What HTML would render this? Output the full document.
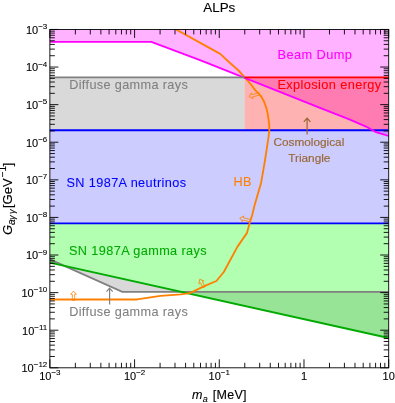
<!DOCTYPE html><html><head><meta charset="utf-8"><style>html,body{margin:0;padding:0;background:#fff}svg{display:block}text{font-family:"Liberation Sans",sans-serif}svg{will-change:transform}</style></head><body>
<svg width="395" height="403" viewBox="0 0 395 403">
<rect width="395" height="403" fill="#fff"/>
<defs><clipPath id="c"><rect x="49.87" y="29.45" width="338.83" height="338.35"/></clipPath></defs>
<g clip-path="url(#c)">
<rect x="49.87" y="77.45" width="194.82999999999998" height="52.749999999999986" fill="#808080" fill-opacity="0.3"/>
<polygon points="49.87,29.45 49.87,41.85 151.40,41.85 200.00,60.20 244.70,77.90 320.00,107.90 350.00,119.70 365.40,126.30 376.00,132.10 388.70,136.00 388.7,29.45" fill="#ff00ff" fill-opacity="0.3"/>
<rect x="244.7" y="77.45" width="144.0" height="52.749999999999986" fill="#ff0000" fill-opacity="0.3"/>
<rect x="49.87" y="130.2" width="338.83" height="93.20000000000002" fill="#0000ff" fill-opacity="0.2"/>
<polygon points="49.87,259.4 122.3,291.8 388.7,291.8 388.7,337.99 49.87,262.60" fill="#808080" fill-opacity="0.3"/>
<polygon points="49.87,223.4 388.7,223.4 388.7,337.99 49.87,262.60" fill="#00ff00" fill-opacity="0.3"/>
<line x1="49.87" y1="130.2" x2="388.7" y2="130.2" stroke="#0000ff" stroke-width="1.9"/>
<line x1="49.87" y1="223.4" x2="388.7" y2="223.4" stroke="#0000ff" stroke-width="1.9"/>
<polyline points="49.87,259.4 122.3,291.8 388.7,291.8" fill="none" stroke="#808080" stroke-width="1.8"/>
<line x1="49.87" y1="262.60" x2="388.7" y2="337.99" stroke="#00aa00" stroke-width="1.9"/>
<polyline points="176.0,29.45 220.2,53.9 230,63 238,70 244.9,77.5 250.6,84 255.2,90.1 258.8,93.7 261.8,97.4 264.3,102.2 266.4,108 267.6,113 269.1,123.6 269.4,129.6 268.5,137.4 264.7,162.2 261,183.3 254.8,204.4 252.2,215 249.65,223.1 247,232.9 237.5,246.6 223.8,272 216.4,281 203.7,286.4 190,293.2 180.7,294.3 160.5,295.9 137.2,299.45 49.87,299.45" fill="none" stroke="#ff8000" stroke-width="1.85" stroke-linejoin="round"/>
<path transform="translate(73.5,299.45) rotate(0)" d="M-1.15,1 V-5.15 H-2.9 L0,-8.45 L2.9,-5.15 H1.15 V1 Z" fill="none" stroke="#ff8000" stroke-width="0.75" stroke-linejoin="miter"/>
<path transform="translate(203.7,286.3) rotate(-30)" d="M-1.15,1 V-4.70 H-2.9 L0,-8.00 L2.9,-4.70 H1.15 V1 Z" fill="none" stroke="#ff8000" stroke-width="0.75" stroke-linejoin="miter"/>
<path transform="translate(249.5,220.5) rotate(-75.5)" d="M-1.15,1 V-6.70 H-2.9 L0,-10.00 L2.9,-6.70 H1.15 V1 Z" fill="none" stroke="#ff8000" stroke-width="0.75" stroke-linejoin="miter"/>
<path transform="translate(257.9,94.25) rotate(-104.9)" d="M-1.15,1 V-5.80 H-2.9 L0,-9.10 L2.9,-5.80 H1.15 V1 Z" fill="none" stroke="#ff8000" stroke-width="0.75" stroke-linejoin="miter"/>
<polyline points="49.87,41.85 151.40,41.85 200.00,60.20 244.70,77.90 320.00,107.90 350.00,119.70 365.40,126.30 376.00,132.10 388.70,136.00" fill="none" stroke="#ff00ff" stroke-width="1.8"/>
<line x1="49.87" y1="77.45" x2="244.7" y2="77.45" stroke="#808080" stroke-width="1.8"/>
<line x1="244.7" y1="77.45" x2="388.7" y2="77.45" stroke="#ff0000" stroke-width="1.8"/>
</g>
<path d="M49.87,367.80L49.87,359.30M49.87,29.45L49.87,37.95M75.37,367.80L75.37,362.80M75.37,29.45L75.37,34.45M90.29,367.80L90.29,362.80M90.29,29.45L90.29,34.45M100.87,367.80L100.87,362.80M100.87,29.45L100.87,34.45M109.08,367.80L109.08,362.80M109.08,29.45L109.08,34.45M115.79,367.80L115.79,362.80M115.79,29.45L115.79,34.45M121.46,367.80L121.46,362.80M121.46,29.45L121.46,34.45M126.37,367.80L126.37,362.80M126.37,29.45L126.37,34.45M130.70,367.80L130.70,362.80M130.70,29.45L130.70,34.45M134.58,367.80L134.58,359.30M134.58,29.45L134.58,37.95M160.08,367.80L160.08,362.80M160.08,29.45L160.08,34.45M174.99,367.80L174.99,362.80M174.99,29.45L174.99,34.45M185.58,367.80L185.58,362.80M185.58,29.45L185.58,34.45M193.79,367.80L193.79,362.80M193.79,29.45L193.79,34.45M200.49,367.80L200.49,362.80M200.49,29.45L200.49,34.45M206.16,367.80L206.16,362.80M206.16,29.45L206.16,34.45M211.08,367.80L211.08,362.80M211.08,29.45L211.08,34.45M215.41,367.80L215.41,362.80M215.41,29.45L215.41,34.45M219.28,367.80L219.28,359.30M219.28,29.45L219.28,37.95M244.78,367.80L244.78,362.80M244.78,29.45L244.78,34.45M259.70,367.80L259.70,362.80M259.70,29.45L259.70,34.45M270.28,367.80L270.28,362.80M270.28,29.45L270.28,34.45M278.49,367.80L278.49,362.80M278.49,29.45L278.49,34.45M285.20,367.80L285.20,362.80M285.20,29.45L285.20,34.45M290.87,367.80L290.87,362.80M290.87,29.45L290.87,34.45M295.78,367.80L295.78,362.80M295.78,29.45L295.78,34.45M300.12,367.80L300.12,362.80M300.12,29.45L300.12,34.45M303.99,367.80L303.99,359.30M303.99,29.45L303.99,37.95M329.49,367.80L329.49,362.80M329.49,29.45L329.49,34.45M344.41,367.80L344.41,362.80M344.41,29.45L344.41,34.45M354.99,367.80L354.99,362.80M354.99,29.45L354.99,34.45M363.20,367.80L363.20,362.80M363.20,29.45L363.20,34.45M369.91,367.80L369.91,362.80M369.91,29.45L369.91,34.45M375.58,367.80L375.58,362.80M375.58,29.45L375.58,34.45M380.49,367.80L380.49,362.80M380.49,29.45L380.49,34.45M384.82,367.80L384.82,362.80M384.82,29.45L384.82,34.45M388.70,367.80L388.70,359.30M388.70,29.45L388.70,37.95M49.87,29.45L58.37,29.45M388.70,29.45L380.20,29.45M49.87,55.73L54.87,55.73M388.70,55.73L383.70,55.73M49.87,49.11L54.87,49.11M388.70,49.11L383.70,49.11M49.87,44.41L54.87,44.41M388.70,44.41L383.70,44.41M49.87,40.77L54.87,40.77M388.70,40.77L383.70,40.77M49.87,37.79L54.87,37.79M388.70,37.79L383.70,37.79M49.87,35.27L54.87,35.27M388.70,35.27L383.70,35.27M49.87,33.09L54.87,33.09M388.70,33.09L383.70,33.09M49.87,31.17L54.87,31.17M388.70,31.17L383.70,31.17M49.87,67.04L58.37,67.04M388.70,67.04L380.20,67.04M49.87,93.32L54.87,93.32M388.70,93.32L383.70,93.32M49.87,86.70L54.87,86.70M388.70,86.70L383.70,86.70M49.87,82.00L54.87,82.00M388.70,82.00L383.70,82.00M49.87,78.36L54.87,78.36M388.70,78.36L383.70,78.36M49.87,75.38L54.87,75.38M388.70,75.38L383.70,75.38M49.87,72.87L54.87,72.87M388.70,72.87L383.70,72.87M49.87,70.69L54.87,70.69M388.70,70.69L383.70,70.69M49.87,68.76L54.87,68.76M388.70,68.76L383.70,68.76M49.87,104.64L58.37,104.64M388.70,104.64L380.20,104.64M49.87,130.92L54.87,130.92M388.70,130.92L383.70,130.92M49.87,124.30L54.87,124.30M388.70,124.30L383.70,124.30M49.87,119.60L54.87,119.60M388.70,119.60L383.70,119.60M49.87,115.96L54.87,115.96M388.70,115.96L383.70,115.96M49.87,112.98L54.87,112.98M388.70,112.98L383.70,112.98M49.87,110.46L54.87,110.46M388.70,110.46L383.70,110.46M49.87,108.28L54.87,108.28M388.70,108.28L383.70,108.28M49.87,106.36L54.87,106.36M388.70,106.36L383.70,106.36M49.87,142.23L58.37,142.23M388.70,142.23L380.20,142.23M49.87,168.51L54.87,168.51M388.70,168.51L383.70,168.51M49.87,161.89L54.87,161.89M388.70,161.89L383.70,161.89M49.87,157.19L54.87,157.19M388.70,157.19L383.70,157.19M49.87,153.55L54.87,153.55M388.70,153.55L383.70,153.55M49.87,150.57L54.87,150.57M388.70,150.57L383.70,150.57M49.87,148.06L54.87,148.06M388.70,148.06L383.70,148.06M49.87,145.88L54.87,145.88M388.70,145.88L383.70,145.88M49.87,143.95L54.87,143.95M388.70,143.95L383.70,143.95M49.87,179.83L58.37,179.83M388.70,179.83L380.20,179.83M49.87,206.11L54.87,206.11M388.70,206.11L383.70,206.11M49.87,199.49L54.87,199.49M388.70,199.49L383.70,199.49M49.87,194.79L54.87,194.79M388.70,194.79L383.70,194.79M49.87,191.14L54.87,191.14M388.70,191.14L383.70,191.14M49.87,188.17L54.87,188.17M388.70,188.17L383.70,188.17M49.87,185.65L54.87,185.65M388.70,185.65L383.70,185.65M49.87,183.47L54.87,183.47M388.70,183.47L383.70,183.47M49.87,181.55L54.87,181.55M388.70,181.55L383.70,181.55M49.87,217.42L58.37,217.42M388.70,217.42L380.20,217.42M49.87,243.70L54.87,243.70M388.70,243.70L383.70,243.70M49.87,237.08L54.87,237.08M388.70,237.08L383.70,237.08M49.87,232.38L54.87,232.38M388.70,232.38L383.70,232.38M49.87,228.74L54.87,228.74M388.70,228.74L383.70,228.74M49.87,225.76L54.87,225.76M388.70,225.76L383.70,225.76M49.87,223.25L54.87,223.25M388.70,223.25L383.70,223.25M49.87,221.07L54.87,221.07M388.70,221.07L383.70,221.07M49.87,219.14L54.87,219.14M388.70,219.14L383.70,219.14M49.87,255.02L58.37,255.02M388.70,255.02L380.20,255.02M49.87,281.29L54.87,281.29M388.70,281.29L383.70,281.29M49.87,274.67L54.87,274.67M388.70,274.67L383.70,274.67M49.87,269.98L54.87,269.98M388.70,269.98L383.70,269.98M49.87,266.33L54.87,266.33M388.70,266.33L383.70,266.33M49.87,263.36L54.87,263.36M388.70,263.36L383.70,263.36M49.87,260.84L54.87,260.84M388.70,260.84L383.70,260.84M49.87,258.66L54.87,258.66M388.70,258.66L383.70,258.66M49.87,256.74L54.87,256.74M388.70,256.74L383.70,256.74M49.87,292.61L58.37,292.61M388.70,292.61L380.20,292.61M49.87,318.89L54.87,318.89M388.70,318.89L383.70,318.89M49.87,312.27L54.87,312.27M388.70,312.27L383.70,312.27M49.87,307.57L54.87,307.57M388.70,307.57L383.70,307.57M49.87,303.93L54.87,303.93M388.70,303.93L383.70,303.93M49.87,300.95L54.87,300.95M388.70,300.95L383.70,300.95M49.87,298.43L54.87,298.43M388.70,298.43L383.70,298.43M49.87,296.25L54.87,296.25M388.70,296.25L383.70,296.25M49.87,294.33L54.87,294.33M388.70,294.33L383.70,294.33M49.87,330.21L58.37,330.21M388.70,330.21L380.20,330.21M49.87,356.48L54.87,356.48M388.70,356.48L383.70,356.48M49.87,349.86L54.87,349.86M388.70,349.86L383.70,349.86M49.87,345.17L54.87,345.17M388.70,345.17L383.70,345.17M49.87,341.52L54.87,341.52M388.70,341.52L383.70,341.52M49.87,338.55L54.87,338.55M388.70,338.55L383.70,338.55M49.87,336.03L54.87,336.03M388.70,336.03L383.70,336.03M49.87,333.85L54.87,333.85M388.70,333.85L383.70,333.85M49.87,331.93L54.87,331.93M388.70,331.93L383.70,331.93M49.87,367.80L58.37,367.80M388.70,367.80L380.20,367.80" stroke="#000" stroke-width="0.9" fill="none"/>
<rect x="49.87" y="29.45" width="338.83" height="338.35" fill="none" stroke="#000" stroke-width="0.9"/>
<text x="47.3" y="33.75" font-size="11" text-anchor="end" stroke="#000" stroke-width="0.1">10<tspan font-size="8" dy="-4.7">−3</tspan></text>
<text x="47.3" y="71.34" font-size="11" text-anchor="end" stroke="#000" stroke-width="0.1">10<tspan font-size="8" dy="-4.7">−4</tspan></text>
<text x="47.3" y="108.94" font-size="11" text-anchor="end" stroke="#000" stroke-width="0.1">10<tspan font-size="8" dy="-4.7">−5</tspan></text>
<text x="47.3" y="146.53" font-size="11" text-anchor="end" stroke="#000" stroke-width="0.1">10<tspan font-size="8" dy="-4.7">−6</tspan></text>
<text x="47.3" y="184.13" font-size="11" text-anchor="end" stroke="#000" stroke-width="0.1">10<tspan font-size="8" dy="-4.7">−7</tspan></text>
<text x="47.3" y="221.72" font-size="11" text-anchor="end" stroke="#000" stroke-width="0.1">10<tspan font-size="8" dy="-4.7">−8</tspan></text>
<text x="47.3" y="259.32" font-size="11" text-anchor="end" stroke="#000" stroke-width="0.1">10<tspan font-size="8" dy="-4.7">−9</tspan></text>
<text x="47.3" y="296.91" font-size="11" text-anchor="end" stroke="#000" stroke-width="0.1">10<tspan font-size="8" dy="-4.7">−10</tspan></text>
<text x="47.3" y="334.51" font-size="11" text-anchor="end" stroke="#000" stroke-width="0.1">10<tspan font-size="8" dy="-4.7">−11</tspan></text>
<text x="47.3" y="372.10" font-size="11" text-anchor="end" stroke="#000" stroke-width="0.1">10<tspan font-size="8" dy="-4.7">−12</tspan></text>
<text x="49.87" y="380.0" font-size="11" text-anchor="middle" stroke="#000" stroke-width="0.1">10<tspan font-size="8" dy="-4.7">−3</tspan></text>
<text x="134.58" y="380.0" font-size="11" text-anchor="middle" stroke="#000" stroke-width="0.1">10<tspan font-size="8" dy="-4.7">−2</tspan></text>
<text x="219.28" y="380.0" font-size="11" text-anchor="middle" stroke="#000" stroke-width="0.1">10<tspan font-size="8" dy="-4.7">−1</tspan></text>
<text x="303.99" y="380.0" font-size="11" text-anchor="middle" stroke="#000" stroke-width="0.1">1</text>
<text x="388.70" y="380.0" font-size="11" text-anchor="middle" stroke="#000" stroke-width="0.1">10</text>
<text x="219.3" y="11.5" font-size="13.4" text-anchor="middle" stroke="#000" stroke-width="0.12">ALPs</text>
<text font-size="12.5" stroke="#000" stroke-width="0.12"><tspan x="192.1" y="399.4" font-style="italic">m</tspan><tspan font-style="italic" font-size="9" x="202.7" y="401.6">a</tspan><tspan x="212.75" y="399.4" letter-spacing="0.3">[MeV]</tspan></text>
<text transform="translate(12.4,235.3) rotate(-90)" font-size="13" stroke="#000" stroke-width="0.12"><tspan x="0.3" y="0" font-style="italic">G</tspan><tspan font-style="italic" font-size="10" x="10.2" y="2.5">a</tspan><tspan font-style="italic" font-size="9.3" x="15.3" y="2.4">γ</tspan><tspan font-style="italic" font-size="9.3" x="21.2" y="2.4">γ</tspan><tspan x="27.3" y="0">[GeV</tspan><tspan font-size="10" x="58.0" y="-6.5">−1</tspan><tspan x="69.0" y="0">]</tspan></text>
<text x="277.5" y="59.4" font-size="12.8" letter-spacing="0.42" fill="#ff00ff" stroke="#ff00ff" stroke-width="0.08">Beam Dump</text>
<text x="277.4" y="89.1" font-size="12.8" letter-spacing="0.38" fill="#ff0000" stroke="#ff0000" stroke-width="0.08">Explosion energy</text>
<text x="69.2" y="89.1" font-size="12.7" letter-spacing="0.35" fill="#808080" stroke="#808080" stroke-width="0.08">Diffuse gamma rays</text>
<text x="66.5" y="186.6" font-size="12.7" letter-spacing="0.39" fill="#0000ff" stroke="#0000ff" stroke-width="0.08">SN 1987A neutrinos</text>
<text x="69.0" y="255.1" font-size="12.7" letter-spacing="0.4" fill="#00aa00" stroke="#00aa00" stroke-width="0.08">SN 1987A gamma rays</text>
<text x="69.2" y="315.6" font-size="12.7" letter-spacing="0.35" fill="#808080" stroke="#808080" stroke-width="0.08">Diffuse gamma rays</text>
<text x="308.9" y="146.1" font-size="11.8" fill="#996633" stroke="#996633" stroke-width="0.15" text-anchor="middle">Cosmological</text>
<text x="309.3" y="162.3" font-size="11.8" fill="#996633" stroke="#996633" stroke-width="0.15" text-anchor="middle">Triangle</text>
<text x="233.6" y="186.4" font-size="12.7" letter-spacing="0.3" fill="#ff8000" stroke="#ff8000" stroke-width="0.08">HB</text>
<path d="M307.1,134.6V118.3M303.8,121.9L307.1,118.1L310.4,121.9" fill="none" stroke="#996633" stroke-width="1.2"/>
<path d="M109.6,304.4V288.4M106.5,291.6L109.6,288.2L112.7,291.6" fill="none" stroke="#808080" stroke-width="1.2"/>
</svg></body></html>
